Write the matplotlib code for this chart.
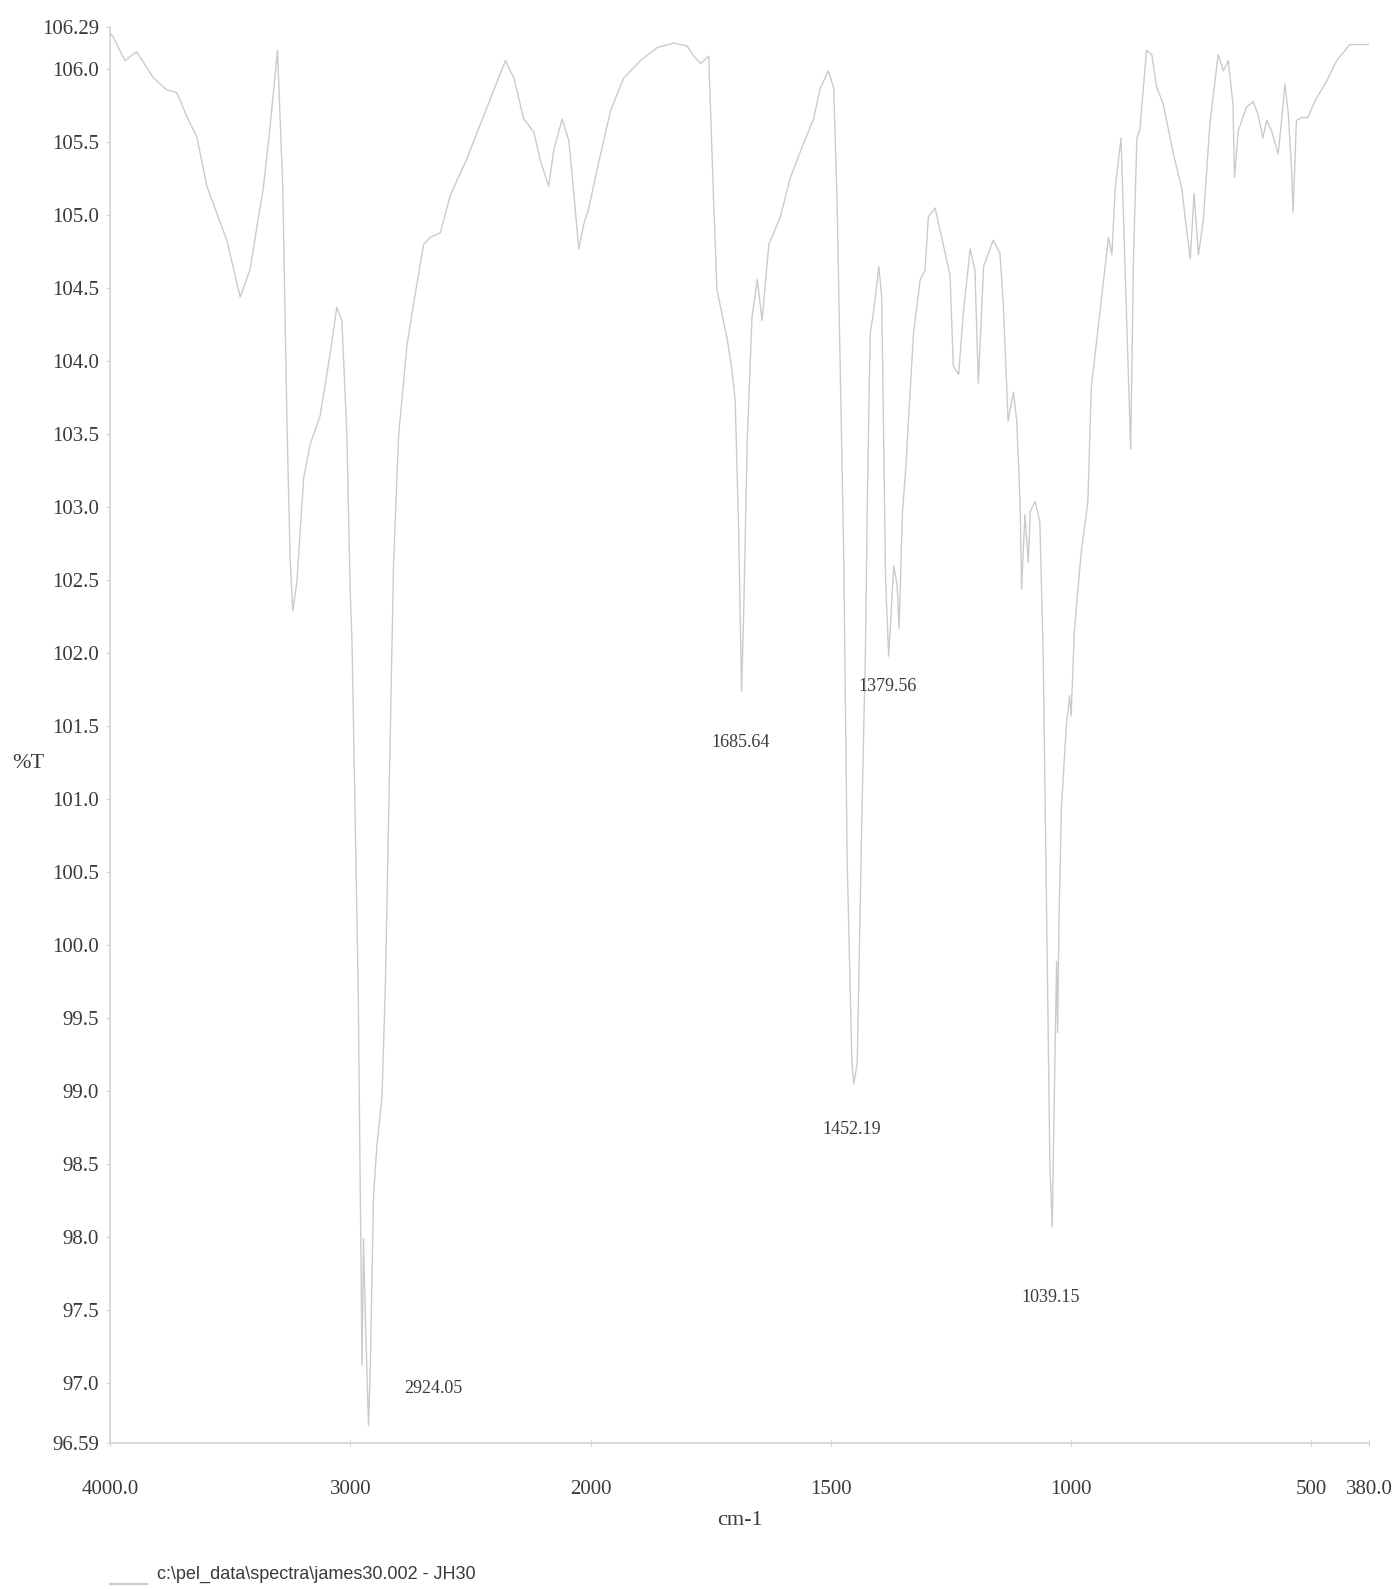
import numpy as np
import matplotlib
matplotlib.use("Agg")
import matplotlib.pyplot as plt
from matplotlib.lines import Line2D

# FT-IR transmission spectrum, JH30 sample
wavenumber = [
    4000, 3986, 3938, 3889, 3819, 3764, 3722, 3681, 3639, 3597, 3514, 3458,
    3417, 3361, 3333, 3303, 3281, 3264, 3250, 3239, 3222, 3194, 3167, 3125,
    3083, 3056, 3035, 3014, 3000, 2993, 2967, 2951, 2945, 2938, 2924.05, 2917,
    2903, 2889, 2868, 2854, 2826, 2820, 2799, 2764, 2736, 2695, 2667, 2625,
    2583, 2514, 2431, 2354, 2319, 2278, 2236, 2208, 2174, 2153, 2118, 2090,
    2069, 2049, 2028, 2007, 1986, 1958, 1931, 1896, 1861, 1827, 1799, 1785,
    1771, 1754, 1744, 1737, 1716, 1706, 1699, 1692, 1685.64, 1681, 1674, 1664,
    1653, 1643, 1629, 1605, 1584, 1563, 1536, 1522, 1505, 1494, 1487, 1480,
    1473, 1466, 1456, 1452.19, 1445, 1435, 1428, 1424, 1418, 1411, 1400, 1394,
    1386, 1379.56, 1369, 1362, 1358, 1351, 1344, 1328, 1314, 1304, 1297, 1283,
    1266, 1252, 1245, 1234, 1224, 1210, 1200, 1193, 1182, 1162, 1148, 1141,
    1134, 1131, 1120, 1113, 1106, 1103, 1096, 1089, 1085, 1075, 1065, 1058,
    1051, 1044, 1039.15, 1033, 1030, 1028, 1025, 1020, 1010, 1003, 1000, 993,
    979, 965, 958, 938, 922, 915, 908, 896, 876, 870, 863, 857,
    843, 832, 822, 808, 787, 770, 752, 744, 735, 725, 711, 694,
    683, 673, 663, 660, 652, 635, 621, 611, 601, 593, 583, 569,
    562, 555, 548, 541, 538, 531, 520, 507, 493, 468, 447, 420,
    380,
]
transmittance = [
    106.25, 106.22, 106.06, 106.12, 105.94, 105.86, 105.84, 105.68, 105.54, 105.20, 104.83, 104.44,
    104.63, 105.20, 105.62, 106.13, 105.20, 103.63, 102.63, 102.29, 102.49, 103.20, 103.43, 103.63,
    104.06, 104.37, 104.28, 103.49, 102.40, 102.10, 99.70, 97.12, 97.99, 97.50, 96.71, 97.08,
    98.29, 98.63, 98.96, 99.72, 102.10, 102.60, 103.49, 104.11, 104.40, 104.80, 104.85, 104.88,
    105.14, 105.39, 105.74, 106.06, 105.94, 105.66, 105.57, 105.37, 105.20, 105.45, 105.66, 105.51,
    105.14, 104.77, 104.94, 105.05, 105.32, 105.72, 105.94, 106.06, 106.15, 106.18, 106.16, 106.09,
    106.04, 106.09, 105.11, 104.49, 104.16, 103.95, 103.73, 102.88, 101.74, 102.31, 103.45, 104.30,
    104.56, 104.28, 104.80, 104.99, 105.26, 105.44, 105.66, 105.87, 105.99, 105.87, 105.11, 103.88,
    102.65, 100.59, 99.19, 99.05, 99.19, 100.94, 101.99, 103.04, 104.19, 104.34, 104.65, 104.43,
    102.50, 101.98, 102.60, 102.47, 102.17, 102.96, 103.27, 104.19, 104.56, 104.62, 104.99, 105.05,
    104.80, 104.59, 103.97, 103.91, 104.34, 104.77, 104.62, 103.85, 104.65, 104.83, 104.74, 104.39,
    103.82, 103.59, 103.79, 103.59, 103.02, 102.44, 102.95, 102.62, 102.97, 103.04, 102.90, 101.99,
    100.24, 98.49, 98.07, 99.36, 99.89, 99.40, 100.20, 100.94, 101.50, 101.71, 101.57, 102.16,
    102.69, 103.04, 103.82, 104.39, 104.85, 104.73, 105.19, 105.53, 103.40, 104.73, 105.53, 105.58,
    106.13, 106.10, 105.88, 105.76, 105.42, 105.19, 104.70, 105.15, 104.73, 104.96, 105.63, 106.10,
    105.99, 106.06, 105.76, 105.26, 105.58, 105.74, 105.78, 105.69, 105.53, 105.65, 105.58, 105.42,
    105.65, 105.90, 105.70, 105.31, 105.02, 105.65, 105.67, 105.67, 105.78, 105.92, 106.06, 106.17,
    106.17,
]

# labelled bands and where their labels sit (pixel offset from the band minimum)
peak_wn = [2924.05, 1685.64, 1452.19, 1379.56, 1039.15]
peak_offset = [(65, 37), (-1, -51), (-2, -46), (-1, -30), (-2, -71)]

x_ticks = [4000, 3000, 2000, 1500, 1000, 500, 380]
x_tick_labels = ["4000.0", "3000", "2000", "1500", "1000", "500", "380.0"]
y_ticks = [96.59, 97.0, 97.5, 98.0, 98.5, 99.0, 99.5, 100.0, 100.5, 101.0, 101.5,
           102.0, 102.5, 103.0, 103.5, 104.0, 104.5, 105.0, 105.5, 106.0, 106.29]
y_tick_labels = ["96.59"] + [f"{v:.1f}" for v in y_ticks[1:-1]] + ["106.29"]

legend_text = r"c:\pel_data\spectra\james30.002 - JH30"

LINE = "#cbcbcb"
AXIS = "#d2d2d2"
TEXT = "#3a3a3a"
SERIF = ["Liberation Serif", "DejaVu Serif"]


# instrument style abscissa: 4000-2000 compressed two-fold
def fwd(x):
    x = np.asarray(x, dtype=float)
    return np.where(x > 2000, 2000 + (x - 2000) / 2.0, x)


def inv(u):
    u = np.asarray(u, dtype=float)
    return np.where(u > 2000, 2000 + (u - 2000) * 2.0, u)


fig = plt.figure(figsize=(13.95, 15.89), dpi=100)
ax = fig.add_axes([110 / 1395, 1 - 1443 / 1589, 1259 / 1395, (1443 - 27) / 1589])

ax.plot(wavenumber, transmittance, color=LINE, lw=1.0)

ax.set_xscale("function", functions=(fwd, inv))
ax.set_xlim(4000, 380)
ax.set_ylim(96.59, 106.29)

ax.set_xticks(x_ticks)
ax.set_xticklabels(x_tick_labels, fontfamily=SERIF, fontsize=15, color=TEXT)
ax.set_yticks(y_ticks)
ax.set_yticklabels(y_tick_labels, fontfamily=SERIF, fontsize=15, color=TEXT)
ax.tick_params(axis="x", direction="inout", length=5, width=0.8, color=AXIS, pad=24)
ax.tick_params(axis="y", direction="out", length=3, width=0.8, color=AXIS, pad=5)

for side in ["top", "right"]:
    ax.spines[side].set_visible(False)
for side in ["left", "bottom"]:
    ax.spines[side].set_color(AXIS)
    ax.spines[side].set_linewidth(1.2)

ax.set_xlabel("cm-1", fontfamily=SERIF, fontsize=16, color=TEXT, labelpad=9)
ax.set_ylabel("%T", fontfamily=SERIF, fontsize=16, color=TEXT, rotation=0, va="center")
ax.yaxis.set_label_coords(-0.065, 0.48)

wn_rev = np.array(wavenumber)[::-1]
t_rev = np.array(transmittance)[::-1]
for wn, (dx, dy) in zip(peak_wn, peak_offset):
    t = float(np.interp(wn, wn_rev, t_rev))
    ax.annotate(f"{wn:.2f}", xy=(wn, t), xytext=(dx, dy), textcoords="offset pixels",
                ha="center", va="center", fontfamily=SERIF, fontsize=13, color=TEXT)

# file legend under the plot
fig.add_artist(Line2D([110 / 1395, 147 / 1395], [1 - 1584 / 1589] * 2,
                      color=LINE, lw=1.5, transform=fig.transFigure))
fig.text(157 / 1395, 1 - 1574 / 1589, legend_text, fontfamily=["Liberation Sans", "DejaVu Sans"],
         fontsize=13, color=TEXT, va="center", ha="left")

fig.savefig("out.png", dpi=100, facecolor="white")
